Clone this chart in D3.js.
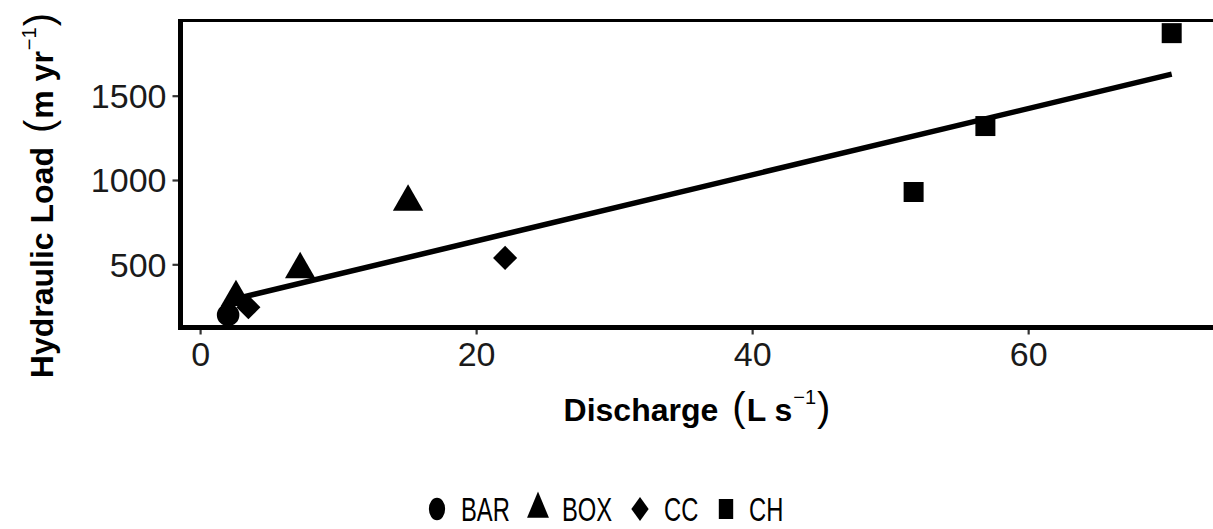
<!DOCTYPE html>
<html><head><meta charset="utf-8">
<script src="https://cdn.jsdelivr.net/npm/d3@7"></script>
<style>
html,body{margin:0;padding:0;background:#fff;}
svg{display:block;}
</style>
</head><body>
<svg id="c" width="1213" height="529"></svg>
<script>
// ---- data ----
const sites = ["BAR", "BOX", "CC", "CH"];
const siteOfPoint = ["BAR", "BOX", "BOX", "BOX", "CC", "CC", "CH", "CH", "CH"];
const discharge = [2.03, 2.6, 7.25, 15.07, 3.5, 22.1, 51.7, 56.9, 70.4];
const hydraulicLoad = [200, 305, 470, 870, 245, 538, 929, 1320, 1871];
const fitX = [2.03, 70.4];
const fitY = [285, 1628];
const xTicks = [0, 20, 40, 60];
const yTicks = [500, 1000, 1500];

const svg = d3.select("#c");
const pL = 180.5, pR = 1220, pT = 20.5, pB = 327.5;
const FONT = "'Liberation Sans', Arial, Helvetica, sans-serif";

const x = d3.scaleLinear().domain([-1.42, 73.9]).range([pL, pR]);
const y = d3.scaleLinear().domain([125.2, 1946]).range([pB, pT]);

const symSize = {BAR: 400, BOX: 400, CC: 290, CH: 400};
const symType = {BAR: d3.symbolCircle, BOX: d3.symbolTriangle, CC: d3.symbolSquare, CH: d3.symbolSquare};
const rot = {BAR: 0, BOX: 0, CC: 45, CH: 0};
const symPath = (s, k) => d3.symbol().type(symType[s]).size(symSize[s] * k)();

// panel border
svg.append("rect").attr("x", pL).attr("y", pT)
  .attr("width", pR - pL).attr("height", pB - pT)
  .attr("fill", "none").attr("stroke", "#000").attr("stroke-width", 3);

// axes
const xAxis = d3.axisBottom(x).tickValues(xTicks).tickSize(7).tickPadding(5).tickFormat(d3.format("d"));
const yAxis = d3.axisLeft(y).tickValues(yTicks).tickSize(8).tickPadding(6).tickFormat(d3.format("d"));

const gx = svg.append("g").attr("transform", `translate(0,${pB})`).call(xAxis);
const gy = svg.append("g").attr("transform", `translate(${pL},0)`).call(yAxis);
[gx, gy].forEach(g => {
  g.select(".domain").remove();
  g.selectAll(".tick line").attr("stroke", "#333").attr("stroke-width", 2.2);
  g.selectAll(".tick text").attr("fill", "#1a1a1a")
    .style("font-family", FONT).style("font-size", "34px");
});
gx.selectAll(".tick line").attr("y1", 2);
gy.selectAll(".tick text").attr("dy", "0.35em");
gx.selectAll(".tick text").attr("dy", "0.78em");

// axis lines
svg.append("line").attr("x1", pL).attr("x2", pL).attr("y1", pT - 1.5).attr("y2", pB + 2.5)
  .attr("stroke", "#000").attr("stroke-width", 5);
svg.append("line").attr("x1", pL - 2.5).attr("x2", pR).attr("y1", pB).attr("y2", pB)
  .attr("stroke", "#000").attr("stroke-width", 5);

// fit line
svg.append("path")
  .datum(fitX.map((d, i) => [d, fitY[i]]))
  .attr("d", d3.line().x(d => x(d[0])).y(d => y(d[1])))
  .attr("stroke", "#000").attr("stroke-width", 5.5).attr("fill", "none");

// points
svg.append("g").selectAll("path")
  .data(discharge.map((d, i) => ({x: d, y: hydraulicLoad[i], s: siteOfPoint[i]})))
  .join("path")
  .attr("d", d => symPath(d.s, 1))
  .attr("transform", d => `translate(${x(d.x)},${y(d.y)}) rotate(${rot[d.s]})`)
  .attr("fill", "#000");

// axis titles (plotmath-like: bold words, regular tall parentheses, superscript -1)
function title(sel, word, unit) {
  sel.style("font-family", FONT).style("font-size", "32px").attr("fill", "#000");
  sel.append("tspan").attr("font-weight", "bold").text(word);
  sel.append("tspan").style("font-size", "40px").attr("dx", 14).text("(");
  sel.append("tspan").attr("font-weight", "bold").attr("dx", 1).text(unit);
  sel.append("tspan").style("font-size", "20px").attr("dx", 1).attr("dy", -17).text("\u22121");
  sel.append("tspan").style("font-size", "40px").attr("dx", 1).attr("dy", 17).text(")");
}
const xt = svg.append("text").attr("x", 697).attr("y", 421).attr("text-anchor", "middle");
title(xt, "Discharge", "L s");

const yt = svg.append("text").attr("transform", "translate(53,13) rotate(-90)").attr("text-anchor", "end");
title(yt, "Hydraulic Load", "m yr");

// legend (drawn horizontally condensed, as in the reference)
const legKeyX = [437, 538, 640, 726];
const legTextX = [461, 562, 664, 749];
const squeeze = 0.72;
const leg = svg.append("g");
sites.forEach((s, i) => {
  leg.append("path").attr("d", symPath(s, 1))
    .attr("transform", `translate(${legKeyX[i]},${509}) scale(${squeeze},1) rotate(${rot[s]})`).attr("fill", "#000");
  leg.append("text").attr("transform", `translate(${legTextX[i]},${521}) scale(${squeeze},1)`)
    .style("font-family", FONT)
    .style("font-size", "33px").attr("fill", "#000").text(s);
});
</script>
</body></html>
